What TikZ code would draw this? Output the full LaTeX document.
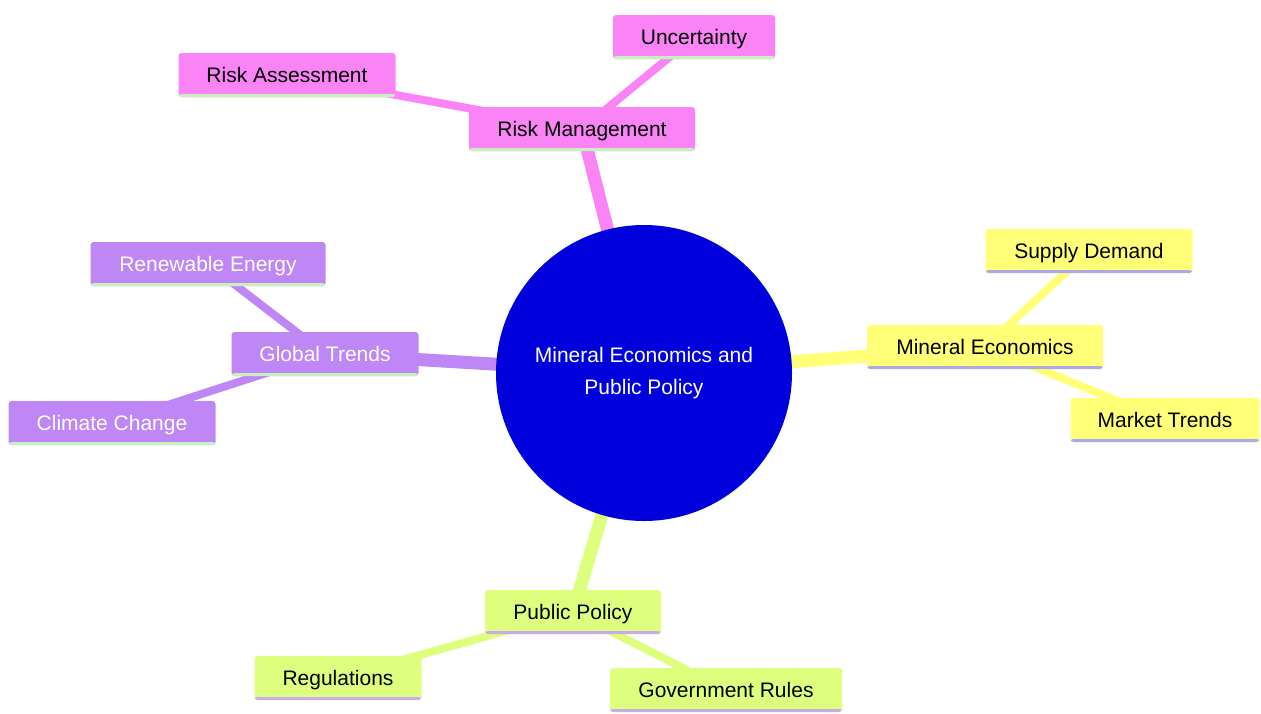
\documentclass[tikz,border=0pt]{standalone}
\usepackage{fontspec}
\setmainfont{Liberation Sans}
\usepackage{tikz}
\usetikzlibrary{backgrounds}
\definecolor{MapRoot}{RGB}{0,0,220}
\definecolor{MapPink}{RGB}{250,132,245}
\definecolor{MapPurple}{RGB}{190,135,245}
\definecolor{MapYellow}{RGB}{255,255,120}
\definecolor{MapLime}{RGB}{222,255,125}
\definecolor{MapGreenLine}{RGB}{200,240,190}
\definecolor{MapLavLine}{RGB}{170,170,230}
\definecolor{MapLilacLine}{RGB}{205,170,235}

\begin{document}
\begin{tikzpicture}[x=1pt,y=-1pt,font=\fontsize{21}{32}\selectfont,
  box/.style n args={4}{fill=#1,text=#2,minimum width=#3,minimum height=44,inner sep=0pt,rounded corners=3pt,
    text height=17.5pt,text depth=2.5pt,
    path picture={\fill[#4] ([yshift=3pt]path picture bounding box.south west) rectangle (path picture bounding box.south east);}},
  trunk/.style={line width=13pt,#1},
  twig/.style={line width=8pt,#1}]
\useasboundingbox (0,0) rectangle (1261,713);
\node[circle,fill=MapRoot,text=white,minimum size=296,inner sep=0pt,align=center] (root) at (644,373)
   {Mineral Economics and\\Public Policy};
% sections
\node[box={MapPink}{black}{226}{MapGreenLine}] (riskmgmt) at (582,129) {Risk Management};
\node[box={MapPink}{black}{162}{MapGreenLine}] (uncert) at (694,37) {Uncertainty};
\node[box={MapPink}{black}{217}{MapGreenLine}] (riskassess) at (287,75) {Risk Assessment};
\node[box={MapPurple}{white}{187}{MapGreenLine}] (global) at (325,354) {Global Trends};
\node[box={MapPurple}{white}{235}{MapGreenLine}] (renew) at (208,264) {Renewable Energy};
\node[box={MapPurple}{white}{207}{MapGreenLine}] (climate) at (112,423) {Climate Change};
\node[box={MapYellow}{black}{236}{MapLavLine}] (mineral) at (985,347) {Mineral Economics};
\node[box={MapYellow}{black}{207}{MapLavLine}] (supply) at (1089,251) {Supply Demand};
\node[box={MapYellow}{black}{189}{MapLavLine}] (market) at (1165,420) {Market Trends};
\node[box={MapLime}{black}{176}{MapLilacLine}] (policy) at (573,612) {Public Policy};
\node[box={MapLime}{black}{167}{MapLilacLine}] (regul) at (338,678) {Regulations};
\node[box={MapLime}{black}{232}{MapLilacLine}] (govrules) at (726,690) {Government Rules};
\begin{pgfonlayer}{background}
\foreach \a/\b in {riskmgmt/MapPink,global/MapPurple,mineral/MapYellow,policy/MapLime} {
   \draw[trunk=\b] (root.center) -- (\a.center);
}
\foreach \a/\b/\c in {riskmgmt/uncert/MapPink,riskmgmt/riskassess/MapPink,global/renew/MapPurple,global/climate/MapPurple,
   mineral/supply/MapYellow,mineral/market/MapYellow,policy/regul/MapLime,policy/govrules/MapLime} {
   \draw[twig=\c] (\a.center) -- (\b.center);
}
\end{pgfonlayer}
\end{tikzpicture}
\end{document}
